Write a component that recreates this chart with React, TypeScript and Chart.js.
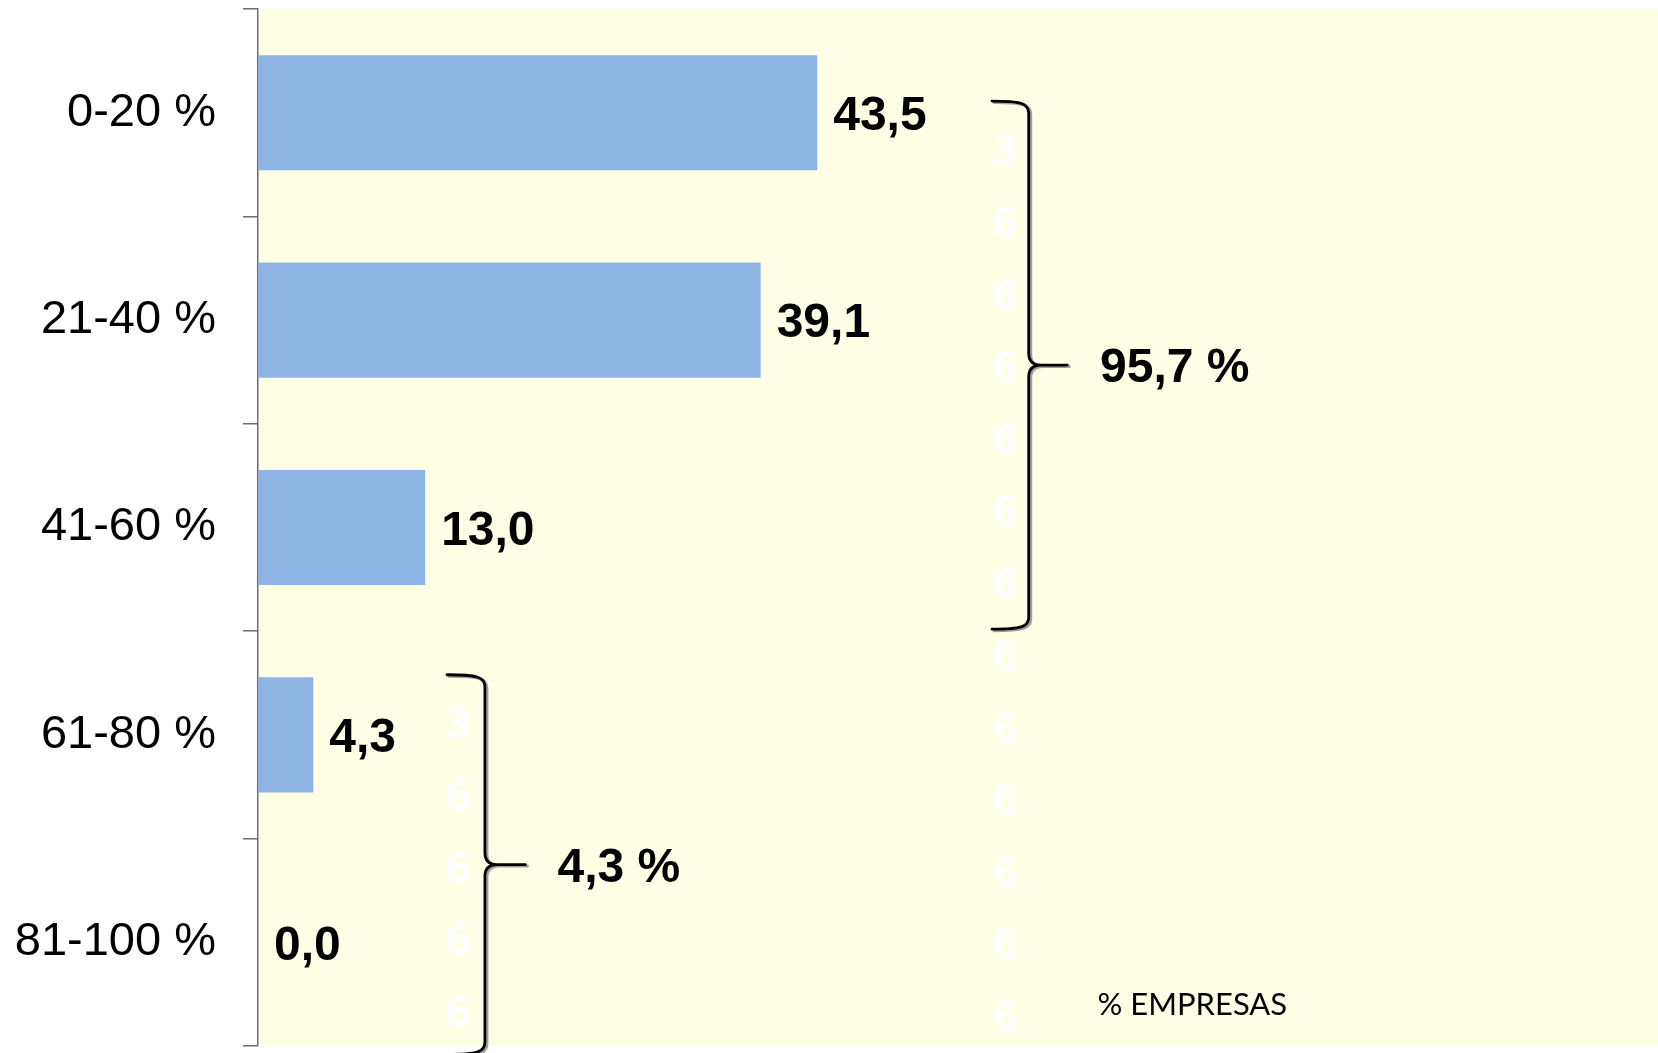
import React, { useEffect, useRef } from "react";
import { Chart, registerables } from "chart.js";

Chart.register(...registerables);

// ---- data ----
const categories = ["0-20 %", "21-40 %", "41-60 %", "61-80 %", "81-100 %"];
const values = [43.5, 39.1, 13.0, 4.3, 0.0];
const braceLabels = ["95,7 %", "4,3 %"];
const axisTitle = "% EMPRESAS";
const ghostColumns = ["3666666666666", "36666"];

// ---- layout / style (scale units: x = value, y = category index) ----
const ARIAL = '"Liberation Sans", Arial, Helvetica, sans-serif';
const BAR_COLOR = "#8EB4E3";
const PLOT_BG = "#FFFFE6";
const AXIS_COLOR = "#6d6d6d";

const braceLayout = [
  { left: 57.1, vert: 59.95, tip: 62.95, top: -0.056, bottom: 2.49, textX: 65.5 },
  { left: 14.7, vert: 17.65, tip: 20.8, top: 2.71, bottom: 4.54, textX: 23.3 },
];
const ghostLayout = [
  { x: 58.1, startIdx: 0.2, stepIdx: 0.348 },
  { x: 15.6, startIdx: 2.963, stepIdx: 0.348 },
];
const titleLayout = { x: 65.3, idx: 4.35 };

function fmt(v: number) {
  return v.toFixed(1).replace(".", ",");
}

const bgPlugin = {
  id: "plotBg",
  beforeDraw(chart: any) {
    const { ctx, chartArea: a } = chart;
    ctx.save();
    ctx.fillStyle = PLOT_BG;
    ctx.fillRect(a.left, a.top, a.right - a.left, a.bottom - a.top);
    ctx.restore();
  },
};

function bracePath(ctx: CanvasRenderingContext2D, L: number, V: number, T: number, top: number, bot: number) {
  const mid = (top + bot) / 2;
  const r = 12;
  ctx.beginPath();
  ctx.moveTo(L, top);
  ctx.bezierCurveTo(V - 8, top, V, top + 2, V, top + r);
  ctx.lineTo(V, mid - r);
  ctx.quadraticCurveTo(V, mid, V + r, mid);
  ctx.lineTo(T, mid);
  ctx.moveTo(V + r, mid);
  ctx.quadraticCurveTo(V, mid, V, mid + r);
  ctx.lineTo(V, bot - r);
  ctx.bezierCurveTo(V, bot - 2, V - 8, bot, L, bot);
  ctx.stroke();
}

const annotPlugin = {
  id: "annotations",
  afterDraw(chart: any) {
    const { ctx } = chart;
    const xs = chart.scales.x;
    const ys = chart.scales.y;
    const meta = chart.getDatasetMeta(0);

    ctx.save();
    // value labels
    ctx.font = `bold 48px ${ARIAL}`;
    ctx.fillStyle = "#000";
    ctx.textAlign = "left";
    ctx.textBaseline = "middle";
    meta.data.forEach((bar: any, i: number) => {
      ctx.fillText(fmt(values[i]), bar.x + 16, bar.y + 4);
    });

    // ghost white digits
    ctx.font = `bold 39px "DejaVu Sans", Verdana, sans-serif`;
    ctx.fillStyle = "#FFFFFF";
    ctx.textAlign = "center";
    ghostColumns.forEach((col, c) => {
      const g = ghostLayout[c];
      const x = xs.getPixelForValue(g.x);
      for (let k = 0; k < col.length; k++) {
        const y = ys.getPixelForValue(g.startIdx + g.stepIdx * k);
        ctx.fillText(col[k], x, y);
      }
    });

    // braces
    braceLayout.forEach((b, i) => {
      const L = xs.getPixelForValue(b.left);
      const V = xs.getPixelForValue(b.vert);
      const T = xs.getPixelForValue(b.tip);
      const top = ys.getPixelForValue(b.top);
      const bot = ys.getPixelForValue(b.bottom);
      ctx.lineCap = "round";
      ctx.lineJoin = "round";
      ctx.save();
      ctx.translate(2, 1.5);
      ctx.strokeStyle = "#a0a0a0";
      ctx.lineWidth = 3;
      bracePath(ctx, L, V, T, top, bot);
      ctx.restore();
      ctx.strokeStyle = "#000";
      ctx.lineWidth = 2.8;
      bracePath(ctx, L, V, T, top, bot);

      ctx.font = `bold 48px ${ARIAL}`;
      ctx.fillStyle = "#000";
      ctx.textAlign = "left";
      ctx.textBaseline = "middle";
      ctx.fillText(braceLabels[i], xs.getPixelForValue(b.textX), (top + bot) / 2 + 4);
    });

    // axis title
    ctx.font = `31px Lato, "Open Sans", sans-serif`;
    ctx.fillStyle = "#000";
    ctx.textAlign = "left";
    ctx.textBaseline = "alphabetic";
    ctx.fillText(axisTitle, xs.getPixelForValue(titleLayout.x), ys.getPixelForValue(titleLayout.idx));
    ctx.restore();
  },
};

export default function App() {
  const ref = useRef<HTMLCanvasElement | null>(null);

  useEffect(() => {
    document.body.style.margin = "0";
    const canvas = ref.current!;
    const chart = new Chart(canvas, {
      type: "bar",
      data: {
        labels: categories,
        datasets: [
          {
            data: values,
            backgroundColor: BAR_COLOR,
            borderWidth: 0,
            barPercentage: 0.555,
            categoryPercentage: 1,
          },
        ],
      },
      options: {
        indexAxis: "y",
        animation: false,
        responsive: false,
        devicePixelRatio: 1,
        layout: { padding: { top: 9, bottom: 7, left: 0, right: 0 } },
        plugins: {
          legend: { display: false },
          tooltip: { enabled: false },
          title: { display: false },
        },
        scales: {
          x: { display: false, min: 0, max: 108.9 },
          y: {
            offset: true,
            grid: {
              offset: true,
              drawOnChartArea: false,
              drawTicks: true,
              tickLength: 15,
              color: AXIS_COLOR,
              lineWidth: 1.5,
            },
            border: { display: true, color: AXIS_COLOR, width: 1.5 },
            ticks: {
              color: "#000",
              font: { family: ARIAL, size: 47 },
              padding: 27,
              autoSkip: false,
            },
            afterFit(scale: any) {
              scale.width = 258;
              scale.paddingTop = 0;
              scale.paddingBottom = 0;
            },
          },
        },
      } as any,
      plugins: [bgPlugin, annotPlugin],
    });
    return () => chart.destroy();
  }, []);

  return (
    <canvas
      ref={ref}
      width={1658}
      height={1053}
      style={{ display: "block", width: "1658px", height: "1053px" }}
    />
  );
}
